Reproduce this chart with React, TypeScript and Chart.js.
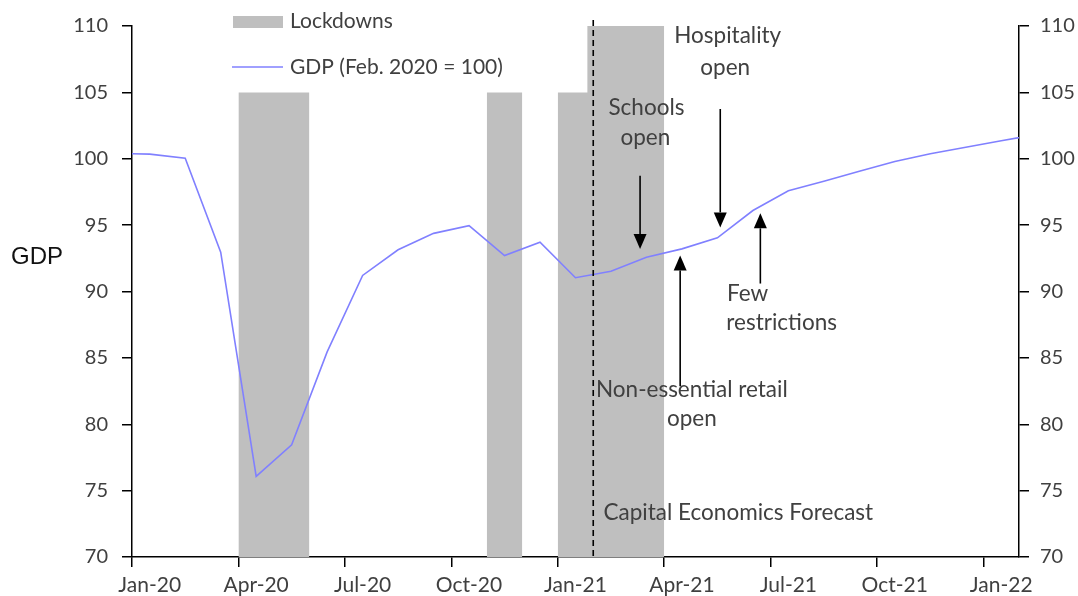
import React, { useEffect, useRef } from 'react';
import { Chart, registerables } from 'chart.js';

Chart.register(...registerables);

// Monthly GDP index (Feb. 2020 = 100), plotted at mid-month
const months = ['Dec-19', 'Jan-20', 'Feb-20', 'Mar-20', 'Apr-20', 'May-20', 'Jun-20', 'Jul-20', 'Aug-20', 'Sep-20', 'Oct-20', 'Nov-20', 'Dec-20',
  'Jan-21', 'Feb-21', 'Mar-21', 'Apr-21', 'May-21', 'Jun-21', 'Jul-21', 'Aug-21', 'Sep-21', 'Oct-21', 'Nov-21', 'Dec-21', 'Jan-22', 'Feb-22'];
const gdp = [100.4, 100.35, 100.04, 92.96, 76.07, 78.45, 85.45, 91.21, 93.14, 94.38, 94.96, 92.71, 93.71,
  91.04, 91.53, 92.58, 93.21, 94.04, 96.1, 97.59, 98.3, 99.06, 99.8, 100.38, 100.86, 101.35, 101.83];

// x axis: months since Jan-20
const tickValues = [0, 3, 6, 9, 12, 15, 18, 21, 24];
const tickLabels = ['Jan-20', 'Apr-20', 'Jul-20', 'Oct-20', 'Jan-21', 'Apr-21', 'Jul-21', 'Oct-21', 'Jan-22'];

// Lockdown periods (months since Jan-20) and bar tops
const lockdownStart = [3, 10, 12, 12.83];
const lockdownEnd = [5, 11, 13, 15];
const lockdownTop = [105, 105, 105, 110];

// Forecast start (months since Jan-20)
const forecastStart = 13;

// Re-opening events (months since Jan-20)
const eventMonths = [14.32, 15.45, 16.58, 17.71];
const eventArrowFrom = [98.72, 82.87, 103.75, 90.6];
const eventArrowTo = [93.2, 92.71, 94.83, 95.89];

const TEXT = '#404040';
const FONT = 'Lato, "Open Sans", sans-serif';

const notes = [
  { t: 'Hospitality', x: 16.79, y: 109.23, a: 'center' },
  { t: 'open', x: 16.72, y: 106.85, a: 'center' },
  { t: 'Schools', x: 14.5, y: 103.84, a: 'center' },
  { t: 'open', x: 14.47, y: 101.59, a: 'center' },
  { t: 'Few', x: 16.77, y: 89.83, a: 'left' },
  { t: 'restrictions', x: 16.75, y: 87.63, a: 'left' },
  { t: 'Non-essential retail', x: 15.78, y: 82.63, a: 'center' },
  { t: 'open', x: 15.78, y: 80.38, a: 'center' },
  { t: 'Capital Economics Forecast', x: 13.29, y: 73.32, a: 'left' },
];

const overlayPlugin = {
  id: 'overlay',
  afterDatasetsDraw(chart: any) {
    const ctx = chart.ctx;
    const xs = chart.scales.x;
    const ys = chart.scales.y;
    const area = chart.chartArea;
    ctx.save();

    // forecast dashed line
    const fx = xs.getPixelForValue(forecastStart);
    ctx.strokeStyle = '#000';
    ctx.lineWidth = 1.6;
    ctx.setLineDash([6, 4]);
    ctx.beginPath();
    ctx.moveTo(fx, area.top - 6);
    ctx.lineTo(fx, area.bottom);
    ctx.stroke();
    ctx.setLineDash([]);

    // arrows
    for (let i = 0; i < eventMonths.length; i++) {
      const x = xs.getPixelForValue(eventMonths[i]);
      const y0 = ys.getPixelForValue(eventArrowFrom[i]);
      const y1 = ys.getPixelForValue(eventArrowTo[i]);
      const dir = y1 > y0 ? 1 : -1;
      const headLen = 15;
      const headHalf = 6.5;
      ctx.strokeStyle = '#000';
      ctx.fillStyle = '#000';
      ctx.lineWidth = 1.6;
      ctx.beginPath();
      ctx.moveTo(x, y0);
      ctx.lineTo(x, y1 - dir * headLen);
      ctx.stroke();
      ctx.beginPath();
      ctx.moveTo(x, y1);
      ctx.lineTo(x - headHalf, y1 - dir * headLen);
      ctx.lineTo(x + headHalf, y1 - dir * headLen);
      ctx.closePath();
      ctx.fill();
    }

    // annotation texts
    ctx.font = `22.5px ${FONT}`;
    ctx.fillStyle = TEXT;
    ctx.textBaseline = 'middle';
    for (const n of notes) {
      ctx.textAlign = n.a as CanvasTextAlign;
      ctx.fillText(n.t, xs.getPixelForValue(n.x), ys.getPixelForValue(n.y));
    }

    // legend
    ctx.font = `21px ${FONT}`;
    ctx.textAlign = 'left';
    ctx.fillStyle = '#bfbfbf';
    ctx.fillRect(233, 16, 50, 12);
    ctx.strokeStyle = '#8080ff';
    ctx.lineWidth = 1.5;
    ctx.beginPath();
    ctx.moveTo(232, 67);
    ctx.lineTo(283, 67);
    ctx.stroke();
    ctx.fillStyle = TEXT;
    ctx.fillText('Lockdowns', 290, 21);
    ctx.fillText('GDP (Feb. 2020 = 100)', 290, 67);

    // y-axis title
    ctx.font = '24px "Liberation Sans", Arial, sans-serif';
    ctx.fillStyle = '#111';
    ctx.fillText('GDP', 11, ys.getPixelForValue(92.55));

    ctx.restore();
  },
};

export default function App() {
  const ref = useRef<HTMLCanvasElement>(null);

  useEffect(() => {
    const lockdownSets = lockdownStart.map((s, i) => ({
      label: 'Lockdowns',
      type: 'line' as const,
      data: [{ x: s, y: lockdownTop[i] }, { x: lockdownEnd[i], y: lockdownTop[i] }],
      borderWidth: 0,
      borderColor: 'rgba(0,0,0,0)',
      backgroundColor: '#bfbfbf',
      pointRadius: 0,
      fill: { value: 70 },
    }));

    const chart = new Chart(ref.current!, {
      type: 'line',
      data: {
        datasets: [
          {
            label: 'GDP (Feb. 2020 = 100)',
            data: months.map((m, i) => ({ x: i - 0.5, y: gdp[i] })),
            borderColor: '#8080ff',
            borderWidth: 1.6,
            pointRadius: 0,
            tension: 0,
            fill: false,
          },
          ...lockdownSets,
        ],
      },
      options: {
        animation: false,
        responsive: false,
        devicePixelRatio: 1,
        layout: { padding: { top: 25, left: 0, right: 0, bottom: 0 } },
        plugins: { legend: { display: false }, tooltip: { enabled: false } },
        scales: {
          x: {
            type: 'linear',
            position: 'bottom',
            min: 0,
            max: 25,
            afterBuildTicks: (scale: any) => {
              scale.ticks = tickValues.map((v) => ({ value: v }));
            },
            afterFit: (scale: any) => {
              scale.height = 39;
            },
            grid: { drawOnChartArea: false, drawTicks: true, tickLength: 10, color: '#000', lineWidth: 1.5 },
            border: { display: true, color: '#000', width: 1.5 },
            ticks: {
              autoSkip: false,
              maxRotation: 0,
              padding: 6,
              labelOffset: 17.7,
              color: TEXT,
              font: { family: FONT, size: 21 },
              callback: (v: any) => {
                const i = tickValues.indexOf(Number(v));
                return i >= 0 ? tickLabels[i] : '';
              },
            },
          },
          y: {
            type: 'linear',
            position: 'left',
            min: 70,
            max: 110,
            afterFit: (scale: any) => {
              scale.width = 132;
            },
            grid: { drawOnChartArea: false, drawTicks: true, tickLength: 10, color: '#000', lineWidth: 1.5 },
            border: { display: true, color: '#000', width: 1.5 },
            ticks: { stepSize: 5, padding: 14, color: TEXT, font: { family: FONT, size: 20 } },
          },
          y2: {
            type: 'linear',
            position: 'right',
            min: 70,
            max: 110,
            afterFit: (scale: any) => {
              scale.width = 59;
            },
            grid: { drawOnChartArea: false, drawTicks: true, tickLength: 10, color: '#000', lineWidth: 1.5 },
            border: { display: true, color: '#000', width: 1.5 },
            ticks: { stepSize: 5, padding: 11, color: TEXT, font: { family: FONT, size: 20 } },
          },
        },
      },
      plugins: [overlayPlugin],
    } as any);
    return () => chart.destroy();
  }, []);

  return (
    <div style={{ position: 'absolute', left: 0, top: 0, width: 1078, height: 596, background: '#fff' }}>
      <canvas ref={ref} width={1078} height={596} style={{ display: 'block', width: 1078, height: 596 }} />
    </div>
  );
}
